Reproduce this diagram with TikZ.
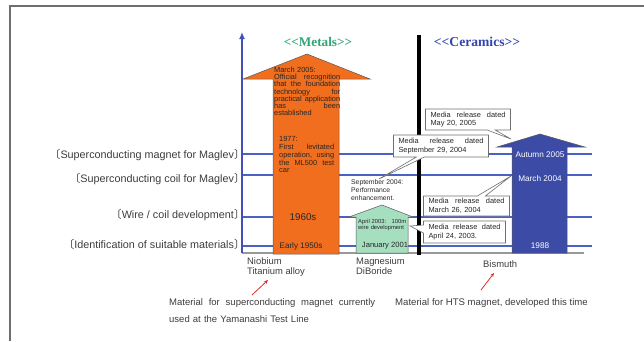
\documentclass[tikz,border=0pt]{standalone}
\usepackage{fontspec}
\setmainfont{Liberation Sans}
\newfontfamily\serifbold{Liberation Serif}
\newfontfamily\cjk{Noto Sans CJK JP}
\usetikzlibrary{arrows.meta,shapes.callouts}
\definecolor{framegray}{HTML}{6E6E6E}
\definecolor{txtgray}{HTML}{3C3C3C}
\definecolor{axisblue}{HTML}{4152B4}
\definecolor{lineblue}{HTML}{4A62C4}
\definecolor{orangefill}{HTML}{F06E1E}
\definecolor{greenfill}{HTML}{A6DEC0}
\definecolor{bluefill}{HTML}{3C4BA5}
\definecolor{metalgreen}{HTML}{2FA574}
\definecolor{ceramblue}{HTML}{3344B0}
\definecolor{callgray}{HTML}{707070}
\definecolor{redarrow}{HTML}{E0302A}
\begin{document}
\begin{tikzpicture}[x=1pt,y=-1pt,
  lbl/.style={font=\fontsize{10.8}{12}\selectfont, text=txtgray, inner sep=0pt, anchor=east},
  undertxt/.style={font=\fontsize{9.4}{10.4}\selectfont, text=txtgray, inner sep=0pt, anchor=west, align=left},
  tinytxt/.style={font=\fontsize{7.4}{7.2}\selectfont, text=black!85, inner sep=0pt, anchor=north west, align=left},
  hline/.style={lineblue, line width=1.3pt},
  arrowshape/.style={draw=gray!70!black, line width=0.5pt},
  callbox/.style={rectangle callout, draw=callgray, fill=white, line width=0.6pt,
    font=\fontsize{7.4}{8.6}\selectfont, text=black!85, align=left, inner xsep=5pt, inner ysep=1.5pt,
    callout pointer width=8pt},
  redarr/.style={redarrow, line width=0.8pt, -{Stealth[length=4pt,width=3.5pt]}}
]
\useasboundingbox (0,0) rectangle (644,341);
% frame
\draw[framegray, line width=2pt] (10,341) -- (10,6) -- (644,6);
% horizontal level lines
\coordinate (l1a) at (242,154); \coordinate (l1b) at (592,154);
\coordinate (l2a) at (242,175); \coordinate (l2b) at (592,175);
\coordinate (l3a) at (242,217); \coordinate (l3b) at (592,217);
\coordinate (l4a) at (242,246); \coordinate (l4b) at (592,246);
\draw[hline] (l1a) -- (l1b);
\draw[hline] (l2a) -- (l2b);
\draw[hline] (l3a) -- (l3b);
\draw[hline] (l4a) -- (l4b);
% baseline
\coordinate (base0) at (242,253); \coordinate (base1) at (584,253);
\draw[gray!80, line width=1.5pt] (base0) -- (base1);
% axis
\coordinate (axtop) at (242,32);
\draw[axisblue, line width=2pt, -{Latex[length=7pt,width=6pt]}] (base0) -- (axtop);
% black divider
\coordinate (div0) at (419,255); \coordinate (div1) at (419,35);
\draw[black, line width=4pt] (div0) -- (div1);
% level labels
\node[lbl] (lev1) at (245,155) {{\cjk 〔}Superconducting magnet for Maglev{\cjk 〕}};
\node[lbl] (lev2) at (245,179) {{\cjk 〔}Superconducting coil for Maglev{\cjk 〕}};
\node[lbl] (lev3) at (245,215) {{\cjk 〔}Wire / coil development{\cjk 〕}};
\node[lbl] (lev4) at (245,244) {{\cjk 〔}Identification of suitable materials{\cjk 〕}};
% titles
\node[font=\serifbold\bfseries\fontsize{13.2}{14}\selectfont, text=metalgreen, inner sep=0pt] (metals) at (318,42) {<<Metals>>};
\node[font=\serifbold\bfseries\fontsize{13.6}{14}\selectfont, text=ceramblue, inner sep=0pt] (ceramics) at (477,42) {<<Ceramics>>};
% orange arrow (Niobium Titanium)
\fill[orangefill] (273,254) -- (273,79) -- (243,79) -- (307,54) -- (370,79) -- (339,79) -- (339,254) -- cycle;
\draw[arrowshape] (273,254) -- (273,79) -- (243,79) -- (307,54) -- (370,79) -- (339,79) -- (339,254) -- cycle;
\node[tinytxt, text width=66pt] (o2005) at (274,67) {March 2005:\\
Official\hfill recognition\\
that\hfill the\hfill foundation\\
technology\hfill for\\
practical\hfill application\\
has\hfill been\\
established};
\node[tinytxt, text width=55pt, font=\fontsize{7.4}{7.9}\selectfont] (o1977) at (279,136) {1977:\\
First\hfill levitated\\
operation,\hfill using\\
the\hfill ML500\hfill test\\
car};
\node[font=\fontsize{9.8}{11}\selectfont, text=black!85, inner sep=0pt] (o1960) at (303,217) {1960s};
\node[font=\fontsize{8.1}{9}\selectfont, text=black!85, inner sep=0pt] (o1950) at (301,246) {Early 1950s};
% green arrow (Magnesium Diboride)
\fill[greenfill] (356,253) -- (356,217) -- (349,217) -- (382,205) -- (413,217) -- (408,217) -- (408,253) -- cycle;
\draw[arrowshape] (356,253) -- (356,217) -- (349,217) -- (382,205) -- (413,217) -- (408,217) -- (408,253) -- cycle;
\node[tinytxt, font=\fontsize{5.8}{6.2}\selectfont, text width=48pt] (g2003) at (358,219) {April 2003:\hfill 100m\\wire development};
\node[font=\fontsize{7.6}{9}\selectfont, text=black!85, inner sep=0pt] (g2001) at (385,246) {January 2001};
\node[tinytxt, font=\fontsize{6.8}{8.3}\selectfont] (sep04) at (351,179) {September 2004:\\Performance\\enhancement.};
% blue arrow (Bismuth)
\fill[bluefill] (512,253) -- (512,147) -- (497,147) -- (540,134) -- (585,147) -- (567,147) -- (567,253) -- cycle;
\draw[arrowshape] (512,253) -- (512,147) -- (497,147) -- (540,134) -- (585,147) -- (567,147) -- (567,253) -- cycle;
\node[font=\fontsize{8.2}{9}\selectfont, text=white, inner sep=0pt] (b2005) at (540,155) {Autumn 2005};
\node[font=\fontsize{8.2}{9}\selectfont, text=white, inner sep=0pt] (b2004) at (540,179) {March 2004};
\node[font=\fontsize{8.2}{9}\selectfont, text=white, inner sep=0pt] (b1988) at (540,246) {1988};
% callout targets
\coordinate (t1) at (511,139);
\coordinate (t2) at (379,179);
\coordinate (t3) at (511,176);
\coordinate (t4) at (410,226);
% callouts
\node[callbox, text width=75pt, minimum height=21pt, callout absolute pointer={(t1)}] (c1) at (468,119.5)
  {Media\hfill release\hfill dated\\May 20, 2005};
\node[callbox, text width=85pt, minimum height=22pt, callout absolute pointer={(t2)}] (c2) at (441,146)
  {Media\hfill release\hfill dated\\September 29, 2004};
\node[callbox, text width=76pt, minimum height=20pt, callout absolute pointer={(t3)}] (c3) at (466.5,206)
  {Media\hfill release\hfill dated\\March 26, 2004};
\node[callbox, text width=72pt, minimum height=22pt, callout absolute pointer={(t4)}] (c4) at (464.5,232)
  {Media\hfill release\hfill dated\\April 24, 2003.};
% materials
\node[undertxt, anchor=north west] (nbti) at (247,257) {Niobium\\Titanium alloy};
\node[undertxt, anchor=north west] (mgb) at (356,257) {Magnesium\\DiBoride};
\node[undertxt, anchor=north west] (bi) at (483,260) {Bismuth};
% red arrows
\coordinate (r1a) at (252,295); \coordinate (r1b) at (268,280);
\coordinate (r2a) at (481,290); \coordinate (r2b) at (494,273);
\draw[redarr] (r1a) -- (r1b);
\draw[redarr] (r2a) -- (r2b);
% descriptions
\node[undertxt, anchor=north west, text width=206pt, font=\fontsize{9.5}{17}\selectfont] (desc1) at (169,298)
  {Material\hfill for\hfill superconducting\hfill magnet\hfill currently\\used at the Yamanashi Test Line};
\begin{scope}
\clip (380,290) rectangle (592,315);
\node[undertxt, anchor=north west, font=\fontsize{9.6}{11}\selectfont] (desc2) at (395,298) {Material for HTS magnet, developed this time};
\end{scope}
\end{tikzpicture}
\end{document}
